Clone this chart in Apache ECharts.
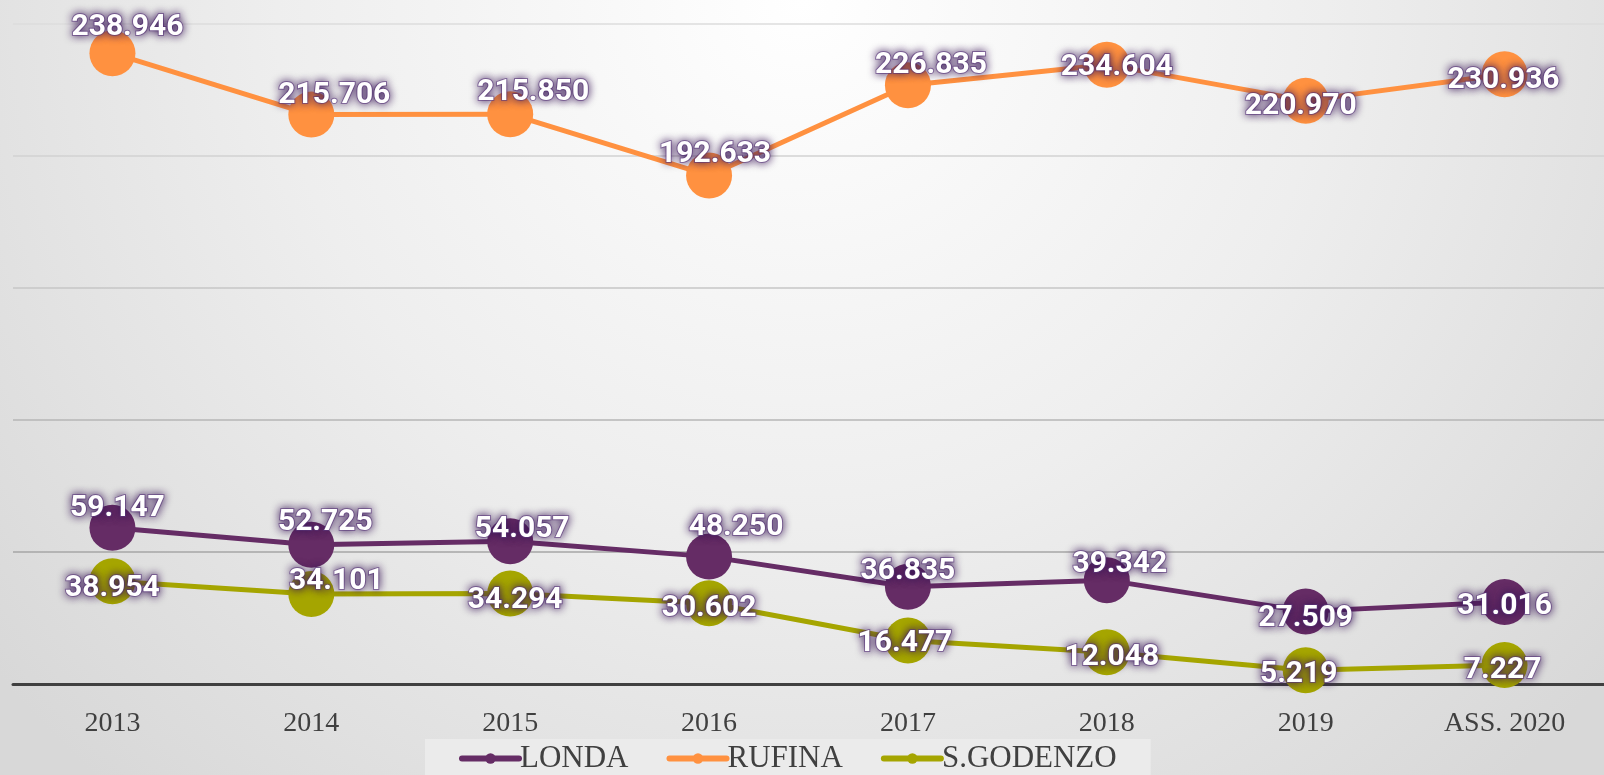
<!DOCTYPE html>
<html>
<head>
<meta charset="utf-8">
<script src="https://cdn.jsdelivr.net/npm/echarts@6/dist/echarts.min.js"></script>
<style>html,body{margin:0;padding:0;}#c{width:1604px;height:775px;}</style>
</head>
<body>
<div id="c"></div>
<script>
const categories = ['2013','2014','2015','2016','2017','2018','2019','ASS. 2020'];
const londa = [59147, 52725, 54057, 48250, 36835, 39342, 27509, 31016];
const rufina = [238946, 215706, 215850, 192633, 226835, 234604, 220970, 230936];
const sgodenzo = [38954, 34101, 34294, 30602, 16477, 12048, 5219, 7227];
const seriesNames = ['LONDA', 'RUFINA', 'S.GODENZO'];
const yTicks = [0, 50000, 100000, 150000, 200000, 250000];

// label offsets (layout only)
const offLonda = [[5,-24],[14,-27],[12,-17],[27,-34],[0,-20],[13,-21],[0,2],[0,-1]];
const offRufina = [[15,-31],[23,-24],[23,-27],[6,-26],[23,-25],[10,-2],[-5,1],[-1,1]];
const offSgod = [[0,2],[25,-17],[5,2],[0,0],[-3,-2],[5,0],[-7,-1],[-2,1]];
const labelDy = 5;

const colors = ['#652c65', '#ff9140', '#a5a500'];
const gridColors = ['#a6a6a6', '#a6a6a6', '#b6b6b6', '#c6c6c6', '#d2d2d2', '#dcdcdc'];

function fmt(v) {
  const s = String(Math.round(v));
  return s.replace(/\B(?=(\d{3})+(?!\d))/g, '.');
}
function build(vals, offs) {
  return vals.map((v, i) => ({ value: v, label: { offset: [offs[i][0], offs[i][1] + labelDy] } }));
}
const labelStyle = {
  show: true,
  position: 'inside',
  formatter: p => fmt(p.value),
  color: '#ffffff',
  fontFamily: 'Roboto',
  fontWeight: 'bold',
  fontSize: 30,
  textBorderColor: 'rgba(100,65,135,0.6)',
  textBorderWidth: 2,
  textShadowColor: 'rgba(55,20,85,1)',
  textShadowBlur: 8
};
function mk(name, vals, offs, color) {
  return {
    name: name,
    type: 'line',
    data: build(vals, offs),
    symbol: 'circle',
    symbolSize: 46,
    itemStyle: { color: color },
    lineStyle: { color: color, width: 5 },
    label: labelStyle,
    animation: false
  };
}

const chart = echarts.init(document.getElementById('c'));
chart.setOption({
  backgroundColor: {
    type: 'radial', x: 802, y: 0, r: 1050, global: true,
    colorStops: [{ offset: 0, color: '#ffffff' }, { offset: 0.5, color: '#eeeeee' }, { offset: 1, color: '#d8d8d8' }]
  },
  grid: { left: 13, right: 0, top: 24, bottom: 91 },
  xAxis: {
    type: 'category',
    data: categories,
    boundaryGap: true,
    axisLine: { show: true, lineStyle: { color: '#404040', width: 3 } },
    axisTick: { show: false },
    axisLabel: { color: '#404040', fontFamily: 'Liberation Serif', fontSize: 28, margin: 26 }
  },
  yAxis: {
    type: 'value',
    min: yTicks[0],
    max: yTicks[yTicks.length - 1],
    interval: yTicks[1] - yTicks[0],
    axisLabel: { show: false },
    axisLine: { show: false },
    axisTick: { show: false },
    splitLine: { show: true, lineStyle: { color: gridColors, width: 1.5 } }
  },
  legend: {
    bottom: 0,
    left: 425,
    data: seriesNames,
    backgroundColor: '#ebebeb',
    padding: [4, 34, 1, 34],
    itemGap: 38,
    itemWidth: 57,
    itemHeight: 13,
    lineStyle: { width: 6, cap: 'round' },
    textStyle: { color: '#404040', fontFamily: 'Liberation Serif', fontSize: 31, padding: [0, 0, 0, -4] }
  },
  series: [
    mk(seriesNames[0], londa, offLonda, colors[0]),
    mk(seriesNames[1], rufina, offRufina, colors[1]),
    mk(seriesNames[2], sgodenzo, offSgod, colors[2])
  ]
});
</script>
</body>
</html>
